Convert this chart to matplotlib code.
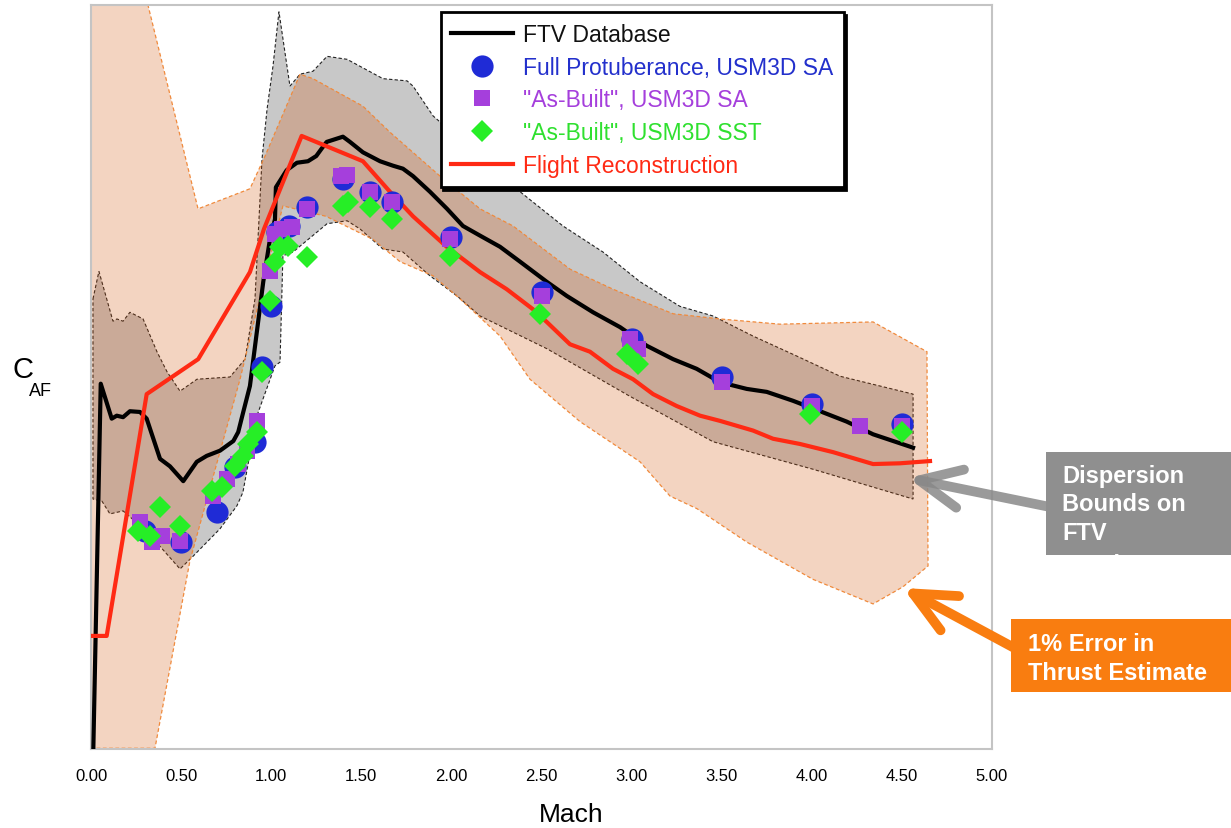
import matplotlib.pyplot as plt
from matplotlib.patches import Rectangle
from matplotlib.lines import Line2D
from matplotlib.transforms import Bbox

plt.rcParams['font.family'] = ['Liberation Sans', 'DejaVu Sans']

# FTV database curve (Mach, C_AF)
ftv_mach = [0.013, 0.054, 0.115, 0.143, 0.178, 0.216, 0.272, 0.309, 0.383, 0.438, 0.512,
            0.587, 0.642, 0.716, 0.790, 0.817, 0.845, 0.882, 0.920, 0.956, 0.993, 1.021,
            1.026, 1.086, 1.143, 1.204, 1.250, 1.280, 1.308, 1.398, 1.437, 1.509, 1.604,
            1.676, 1.731, 1.787, 1.881, 1.976, 2.064, 2.159, 2.270, 2.381, 2.529, 2.640,
            2.786, 2.936, 3.084, 3.230, 3.361, 3.491, 3.639, 3.750, 3.896, 4.046, 4.194,
            4.340, 4.562]
ftv_caf = [0.001, 0.491, 0.444, 0.448, 0.446, 0.454, 0.453, 0.444, 0.390, 0.380, 0.360,
           0.386, 0.394, 0.401, 0.414, 0.426, 0.453, 0.488, 0.560, 0.628, 0.685, 0.712,
           0.755, 0.778, 0.788, 0.790, 0.797, 0.807, 0.816, 0.823, 0.816, 0.802, 0.790,
           0.784, 0.780, 0.770, 0.749, 0.726, 0.703, 0.690, 0.675, 0.655, 0.628, 0.609,
           0.587, 0.567, 0.542, 0.524, 0.511, 0.493, 0.484, 0.480, 0.468, 0.454, 0.440,
           0.423, 0.405]

# Flight reconstruction
flight_mach = [0.007, 0.087, 0.309, 0.595, 0.882, 0.960, 1.169, 1.509, 1.659, 1.787, 1.974,
               2.159, 2.307, 2.453, 2.529, 2.658, 2.769, 2.897, 3.008, 3.119, 3.250, 3.380,
               3.491, 3.674, 3.785, 3.934, 4.118, 4.340, 4.489, 4.656]
flight_caf = [0.152, 0.152, 0.477, 0.524, 0.641, 0.699, 0.824, 0.790, 0.749, 0.716, 0.675,
              0.641, 0.618, 0.591, 0.574, 0.544, 0.534, 0.511, 0.497, 0.477, 0.461, 0.448,
              0.441, 0.428, 0.417, 0.410, 0.399, 0.383, 0.384, 0.387]

# Dispersion bounds on FTV database
disp_up_mach = [0.011, 0.044, 0.122, 0.144, 0.178, 0.216, 0.289, 0.366, 0.422, 0.494, 0.588,
                0.771, 0.855, 0.910, 0.949, 0.977, 1.010, 1.043, 1.104, 1.160, 1.232, 1.310,
                1.421, 1.620, 1.754, 1.787, 1.898, 2.381, 2.619, 2.841, 3.047, 3.268, 3.452,
                3.674, 3.918, 4.157, 4.562]
disp_up_caf = [0.605, 0.642, 0.575, 0.578, 0.575, 0.587, 0.578, 0.534, 0.507, 0.481, 0.497,
               0.500, 0.524, 0.605, 0.793, 0.860, 0.918, 0.991, 0.891, 0.907, 0.911, 0.931,
               0.927, 0.901, 0.898, 0.891, 0.851, 0.749, 0.703, 0.668, 0.628, 0.595, 0.582,
               0.555, 0.528, 0.501, 0.477]
disp_lo_mach = [0.011, 0.061, 0.105, 0.178, 0.311, 0.494, 0.566, 0.716, 0.810, 0.843, 0.921,
                1.021, 1.049, 1.065, 1.121, 1.310, 1.421, 1.493, 1.620, 1.731, 1.881, 2.031,
                2.159, 2.530, 2.991, 3.452, 4.007, 4.562]
disp_lo_caf = [0.336, 0.333, 0.316, 0.320, 0.292, 0.242, 0.259, 0.296, 0.327, 0.345, 0.448,
               0.515, 0.520, 0.663, 0.668, 0.706, 0.710, 0.699, 0.672, 0.668, 0.636, 0.609,
               0.582, 0.538, 0.474, 0.413, 0.376, 0.336]

# 1% thrust error bounds
thrust_up_mach = [0.000, 0.316, 0.594, 0.882, 0.966, 1.160, 1.232, 1.509, 1.659, 1.937, 2.159,
                  2.342, 2.658, 2.897, 3.230, 3.491, 3.823, 4.340, 4.639, 4.645]
thrust_up_caf = [1.000, 1.000, 0.726, 0.753, 0.797, 0.907, 0.901, 0.864, 0.829, 0.770, 0.726,
                 0.703, 0.645, 0.618, 0.585, 0.578, 0.571, 0.574, 0.534, 0.246]
thrust_lo_mach = [0.000, 0.355, 0.549, 0.827, 0.949, 1.065, 1.304, 1.565, 1.715, 1.898, 2.048,
                  2.270, 2.436, 2.714, 3.047, 3.213, 3.363, 3.640, 4.007, 4.340, 4.506, 4.645]
thrust_lo_caf = [0.001, 0.001, 0.253, 0.497, 0.618, 0.730, 0.716, 0.685, 0.655, 0.636, 0.605,
                 0.555, 0.497, 0.440, 0.386, 0.340, 0.323, 0.278, 0.228, 0.195, 0.218, 0.246]

# CFD results
full_mach = [0.30, 0.50, 0.70, 0.80, 0.91, 0.95, 1.00, 1.03, 1.10, 1.20, 1.40, 1.55, 1.67,
             2.00, 2.50, 3.00, 3.50, 4.00, 4.50]
full_caf = [0.293, 0.278, 0.319, 0.379, 0.413, 0.513, 0.595, 0.695, 0.703, 0.728, 0.766,
            0.749, 0.735, 0.688, 0.614, 0.551, 0.500, 0.464, 0.437]

asb_sa_mach = [0.272, 0.337, 0.392, 0.494, 0.677, 0.753, 0.816, 0.864, 0.920, 0.993, 1.021,
               1.060, 1.114, 1.197, 1.387, 1.421, 1.548, 1.669, 1.992, 2.501, 2.991, 3.036,
               3.500, 4.000, 4.267, 4.499]
asb_sa_caf = [0.305, 0.278, 0.286, 0.280, 0.340, 0.363, 0.383, 0.401, 0.441, 0.642, 0.692,
              0.699, 0.702, 0.726, 0.770, 0.772, 0.749, 0.735, 0.685, 0.609, 0.551, 0.538,
              0.493, 0.461, 0.434, 0.434]

asb_sst_mach = [0.262, 0.327, 0.383, 0.494, 0.670, 0.725, 0.799, 0.843, 0.871, 0.920, 0.947,
                0.993, 1.021, 1.049, 1.093, 1.197, 1.398, 1.426, 1.548, 1.669, 1.992, 2.492,
                2.973, 3.036, 3.989, 4.499]
asb_sst_caf = [0.293, 0.286, 0.325, 0.300, 0.347, 0.352, 0.380, 0.394, 0.410, 0.426, 0.507,
               0.602, 0.655, 0.675, 0.676, 0.661, 0.730, 0.735, 0.728, 0.712, 0.663, 0.585,
               0.531, 0.518, 0.450, 0.426]

W, H = 1231, 829
fig = plt.figure(figsize=(W / 100, H / 100), dpi=100)
ax = fig.add_axes([91 / W, 79 / H, 901 / W, 744 / H])

# dispersion band (grey), then thrust error band on top
ax.fill(disp_up_mach + disp_lo_mach[::-1], disp_up_caf + disp_lo_caf[::-1],
        facecolor='#c8c8c8', edgecolor='#222222', linestyle=(0, (3, 2)), linewidth=0.8, zorder=1)
ax.fill(thrust_up_mach + thrust_lo_mach[::-1], thrust_up_caf + thrust_lo_caf[::-1],
        facecolor=(0.82, 0.33, 0.04, 0.25), edgecolor='#f08a3c', linestyle=(0, (3, 2)),
        linewidth=0.9, zorder=2)

ax.plot(ftv_mach, ftv_caf, color='black', lw=3, zorder=3)
ax.plot(flight_mach, flight_caf, color='#ff2a14', lw=3, zorder=4)
ax.plot(full_mach, full_caf, 'o', color='#1f2bd6', ms=16, mew=0, zorder=5)
ax.plot(asb_sa_mach, asb_sa_caf, 's', color='#a53fdc', ms=11, mew=0, zorder=6)
ax.plot(asb_sst_mach, asb_sst_caf, 'D', color='#26ee26', ms=11, mew=0, zorder=7)

ax.set_xlim(0, 5)
ax.set_ylim(0, 1)
ax.set_xticks([0, 0.5, 1, 1.5, 2, 2.5, 3, 3.5, 4, 4.5, 5])
ax.set_xticklabels(['%.2f' % t for t in ax.get_xticks()], fontsize=12)
ax.tick_params(axis='x', length=0, pad=14)
ax.set_yticks([])
for s in ax.spines.values():
    s.set_color('#c4c4c4')
    s.set_linewidth(1.5)

# legend
handles = [
    Line2D([], [], color='black', lw=3),
    Line2D([], [], marker='o', color='#1f2bd6', ls='none', ms=16, mew=0),
    Line2D([], [], marker='s', color='#a53fdc', ls='none', ms=11, mew=0),
    Line2D([], [], marker='D', color='#26ee26', ls='none', ms=11, mew=0),
    Line2D([], [], color='#ff2a14', lw=3),
]
labels = ['FTV Database', 'Full Protuberance, USM3D SA', '"As-Built", USM3D SA',
          '"As-Built", USM3D SST', 'Flight Reconstruction']
label_colors = ['#111111', '#2330cc', '#a53fdc', '#2fe02f', '#ff2a14']
leg = ax.legend(handles, labels, loc='upper left', bbox_to_anchor=(0.388, 0.99),
                borderaxespad=0, fontsize=16.5, handlelength=2.7, handletextpad=0.45,
                labelspacing=0.43, borderpad=0.45, fancybox=False, framealpha=1,
                shadow={'color': 'black', 'alpha': 1}, numpoints=1)
leg.get_frame().set_edgecolor('black')
leg.get_frame().set_linewidth(2)
for t, c in zip(leg.get_texts(), label_colors):
    t.set_color(c)

# axis labels
fig.text(571 / W, 1 - 815 / H, 'Mach', fontsize=19, ha='center', va='center')
fig.text(12 / W, 1 - 370 / H, 'C', fontsize=21, ha='left', va='center')
fig.text(29 / W, 1 - 392 / H, 'AF', fontsize=13, ha='left', va='center')

# callout boxes
grey_box = Rectangle((1046 / W, 1 - 556 / H), (W - 1046) / W, 103 / H,
                     transform=fig.transFigure, facecolor='#8f8f8f', edgecolor='none')
fig.add_artist(grey_box)
clip = Bbox.from_extents(1046, H - 556, W, H - 453)
for line, ypix in zip(['Dispersion', 'Bounds on', 'FTV', 'Database'], [477, 505, 533, 566]):
    t = fig.text(1062 / W, 1 - ypix / H, line, color='white', fontsize=17,
                 fontweight='bold', ha='left', va='center')
    t.set_clip_box(clip)
    t.set_clip_on(True)

orange_box = Rectangle((1011 / W, 1 - 693 / H), (W - 1011) / W, 73 / H,
                       transform=fig.transFigure, facecolor='#f97d10', edgecolor='none')
fig.add_artist(orange_box)
fig.text(1028 / W, 1 - 659 / H, '1% Error in\nThrust Estimate', color='white', fontsize=17,
         fontweight='bold', ha='left', va='center', linespacing=1.3)

ax.annotate('', xy=(908, H - 479), xycoords='figure pixels',
            xytext=(1050, H - 508), textcoords='figure pixels',
            arrowprops=dict(arrowstyle='->, head_length=3.0, head_width=1.4',
                            color='#888888', alpha=0.85, lw=7, shrinkA=0, shrinkB=0),
            annotation_clip=False)
ax.annotate('', xy=(903, H - 589), xycoords='figure pixels',
            xytext=(1020, H - 652), textcoords='figure pixels',
            arrowprops=dict(arrowstyle='->, head_length=3.0, head_width=1.4',
                            color='#f97d10', lw=7, shrinkA=0, shrinkB=0),
            annotation_clip=False)

fig.savefig('out.png', dpi=100)
